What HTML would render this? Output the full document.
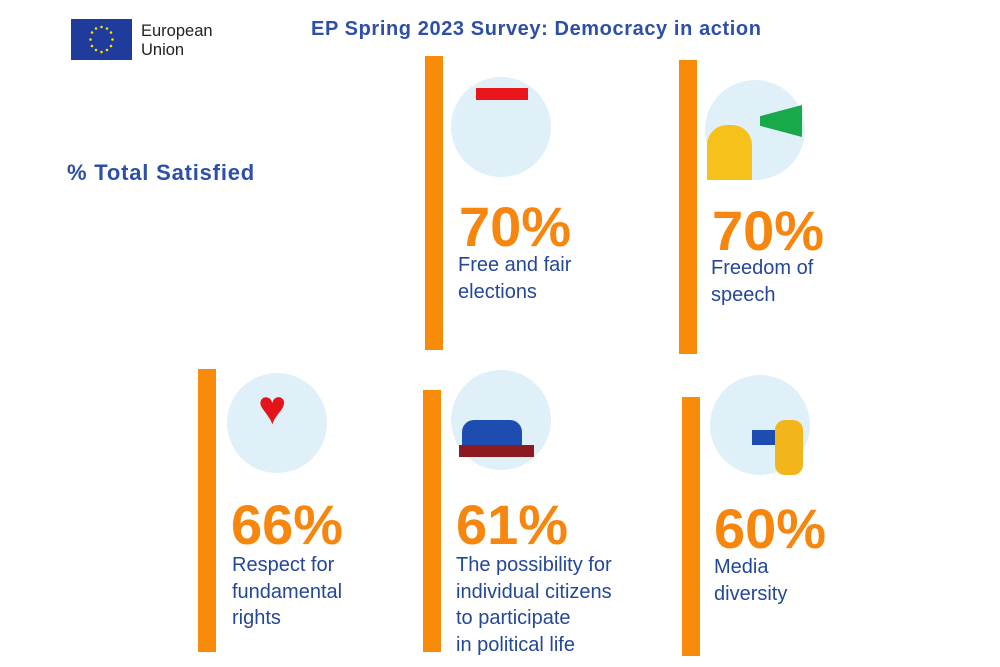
<!DOCTYPE html>
<html><head><meta charset="utf-8"><style>
body{margin:0;width:1000px;height:667px;background:#fff;position:relative;overflow:hidden;font-family:"Liberation Sans",sans-serif}
.a{position:absolute}
.bar{position:absolute;background:#f98b0a;width:18px}
.circ{position:absolute;border-radius:50%;background:#dff0f8;width:100px;height:100px}
.pct{position:absolute;color:#f6860e;font-weight:bold;font-size:56px;letter-spacing:0px;line-height:56px}
.lbl{position:absolute;color:#25479a;font-size:20px;line-height:26.5px}
</style></head><body>
<div class="a" style="left:71px;top:19px;width:61px;height:41px;background:#1f3b9b"></div>
<svg class="a" style="left:71px;top:19px" width="61" height="41">
<g fill="#ffdd00">
<circle cx="30.5" cy="8" r="1.3"/><circle cx="36" cy="9.5" r="1.3"/><circle cx="40" cy="13.5" r="1.3"/><circle cx="41.5" cy="20.5" r="1.3"/><circle cx="40" cy="27" r="1.3"/><circle cx="36" cy="31" r="1.3"/><circle cx="30.5" cy="33" r="1.3"/><circle cx="25" cy="31" r="1.3"/><circle cx="21" cy="27" r="1.3"/><circle cx="19.5" cy="20.5" r="1.3"/><circle cx="21" cy="13.5" r="1.3"/><circle cx="25" cy="9.5" r="1.3"/></g></svg>
<div class="a" style="left:141px;top:22px;font-size:16.5px;line-height:19px;color:#222">European<br>Union</div>
<div class="a" style="left:311px;top:18px;font-size:20px;letter-spacing:0.6px;font-weight:bold;color:#2d4fa8">EP Spring 2023 Survey: Democracy in action</div>
<div class="a" style="left:67px;top:160px;font-size:22px;letter-spacing:0.8px;font-weight:bold;color:#2d4fa8">% Total Satisfied</div>

<div class="bar" style="left:425px;top:56px;height:294px"></div>
<div class="circ" style="left:451px;top:77px"></div>
<div class="a" style="left:476px;top:88px;width:52px;height:12px;background:#e8151b"></div>
<div class="pct" style="left:459px;top:199px">70%</div>
<div class="lbl" style="left:458px;top:252px">Free and fair<br>elections</div>

<div class="bar" style="left:679px;top:60px;height:294px"></div>
<div class="circ" style="left:705px;top:80px"></div>
<div class="a" style="left:707px;top:125px;width:45px;height:55px;background:#f6c11a;border-radius:20px 20px 0 0"></div>
<div class="a" style="left:760px;top:105px;width:42px;height:32px;background:#19a84a;clip-path:polygon(0 35%,100% 0,100% 100%,0 65%)"></div>
<div class="pct" style="left:712px;top:203px">70%</div>
<div class="lbl" style="left:711px;top:255px">Freedom of<br>speech</div>

<div class="bar" style="left:198px;top:369px;height:283px"></div>
<div class="circ" style="left:227px;top:373px"></div>
<div class="a" style="left:258px;top:385px;font-size:48px;color:#e4141b;line-height:48px">♥</div>
<div class="pct" style="left:231px;top:497px">66%</div>
<div class="lbl" style="left:232px;top:552px">Respect for<br>fundamental<br>rights</div>

<div class="bar" style="left:423px;top:390px;height:262px"></div>
<div class="circ" style="left:451px;top:370px"></div>
<div class="a" style="left:462px;top:420px;width:60px;height:25px;background:#1d4db0;border-radius:12px 12px 0 0"></div>
<div class="a" style="left:459px;top:445px;width:75px;height:12px;background:#8c1a1e"></div>
<div class="pct" style="left:456px;top:497px">61%</div>
<div class="lbl" style="left:456px;top:552px">The possibility for<br>individual citizens<br>to participate<br>in political life</div>

<div class="bar" style="left:682px;top:397px;height:259px"></div>
<div class="circ" style="left:710px;top:375px"></div>
<div class="a" style="left:752px;top:430px;width:40px;height:15px;background:#1d4db0"></div>
<div class="a" style="left:775px;top:420px;width:28px;height:55px;background:#f2b51c;border-radius:10px"></div>
<div class="pct" style="left:714px;top:501px">60%</div>
<div class="lbl" style="left:714px;top:554px">Media<br>diversity</div>
</body></html>
